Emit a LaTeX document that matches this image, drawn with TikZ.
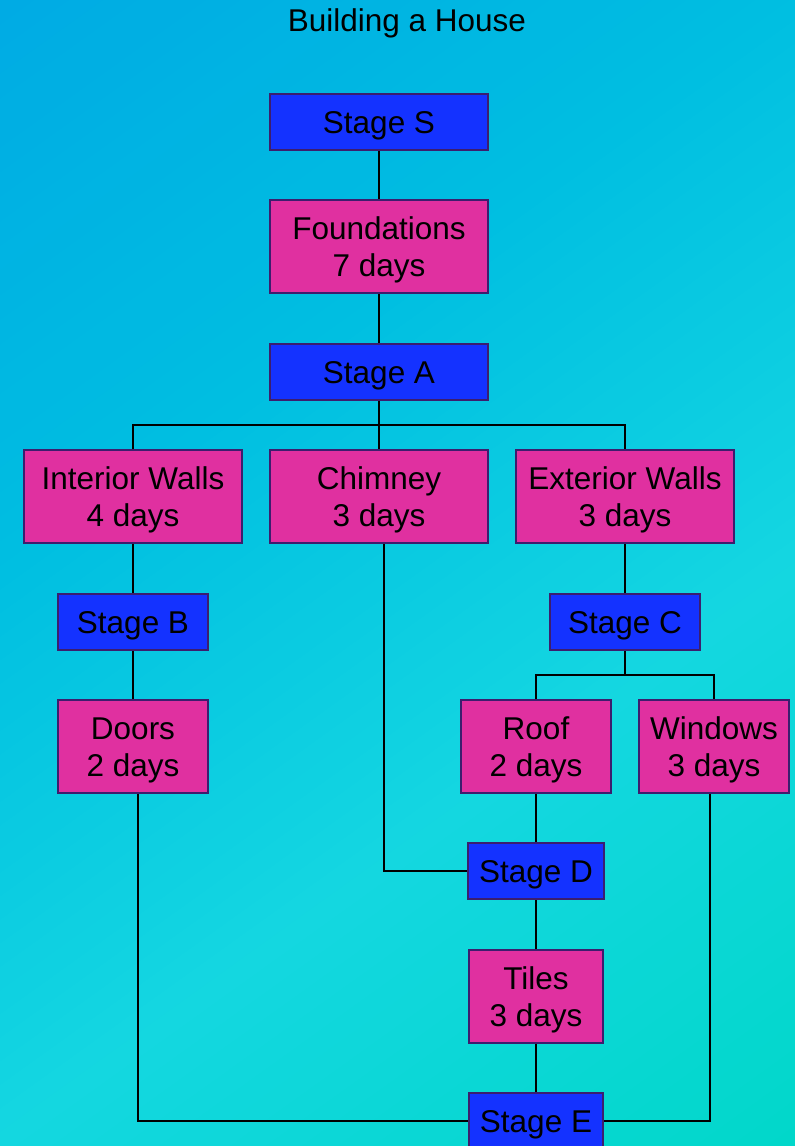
\documentclass[tikz,border=0pt]{standalone}
\usepackage{fontspec}
\setmainfont{Liberation Sans}
\definecolor{bgA}{RGB}{0,170,228}
\definecolor{bgB}{RGB}{0,190,225}
\definecolor{bgC}{RGB}{20,215,225}
\definecolor{bgD}{RGB}{0,215,200}
\definecolor{stageblue}{RGB}{20,50,255}
\definecolor{taskpink}{RGB}{224,48,160}
\definecolor{boxedge}{RGB}{60,30,110}
\newcommand\topstrut{\rule{0pt}{30pt}}
\tikzset{
  boxfont/.style={font=\fontsize{31.5}{37}\selectfont},
  stagebox/.style={draw=boxedge, line width=2pt, fill=stageblue, inner sep=0pt, minimum height=56pt, boxfont},
  taskbox/.style={draw=boxedge, line width=2pt, fill=taskpink, inner sep=0pt, minimum height=93pt, align=center, boxfont},
  link/.style={draw=black, line width=2pt}
}
\begin{document}
\begin{tikzpicture}[x=1pt,y=-1pt]
\useasboundingbox (0,0) rectangle (795,1146);
% diagonal background gradient, drawn as thin bands
\begin{scope}
\clip (0,0) rectangle (795,1146);
\begin{scope}[x={(0.5827pt,-0.8127pt)}, y={(-0.8127pt,-0.5827pt)}]
\foreach \ta/\tb/\ca/\cb in {-20/460/bgA/bgB, 460/920/bgB/bgC, 920/1420/bgC/bgD}{
  \foreach \i in {0,...,23}{
    \pgfmathsetmacro\tlo{\ta+\i*(\tb-\ta)/24}
    \pgfmathsetmacro\thi{\ta+(\i+1)*(\tb-\ta)/24+1}
    \pgfmathsetmacro\pc{100*(\i+0.5)/24}
    \fill[color=\cb!\pc!\ca] (\tlo,-1500) -- (\thi,-1500) -- (\thi,1500) -- (\tlo,1500) -- cycle;
  }
}
\end{scope}
\end{scope}
\node[anchor=base, boxfont] (title) at (407,31) {Building a House};
% nodes
\node[stagebox, minimum width=218pt] (ss) at (379,122) {\topstrut Stage S};
\node[taskbox, minimum width=218pt] (fd) at (379,246.5) {\topstrut Foundations\\7 days};
\node[stagebox, minimum width=218pt] (sa) at (379,372) {\topstrut Stage A};
\node[taskbox, minimum width=218pt] (iw) at (133,496.5) {\topstrut Interior Walls\\4 days};
\node[taskbox, minimum width=218pt] (ch) at (379,496.5) {\topstrut Chimney\\3 days};
\node[taskbox, minimum width=218pt] (ew) at (625,496.5) {\topstrut Exterior Walls\\3 days};
\node[stagebox, minimum width=150pt] (sb) at (133,622) {\topstrut Stage B};
\node[stagebox, minimum width=150pt] (sc) at (625,622) {\topstrut Stage C};
\node[taskbox, minimum width=150pt] (dr) at (133,746.5) {\topstrut Doors\\2 days};
\node[taskbox, minimum width=150pt] (rf) at (536,746.5) {\topstrut Roof\\2 days};
\node[taskbox, minimum width=150pt] (wn) at (714,746.5) {\topstrut Windows\\3 days};
\node[stagebox, minimum width=136pt] (sd) at (536,871) {\topstrut Stage D};
\node[taskbox, minimum width=134pt] (tl) at (536,996) {\topstrut Tiles\\3 days};
\node[stagebox, minimum width=134pt] (se) at (536,1121) {\topstrut Stage E};
\coordinate (forkA) at (379,425);
\coordinate (forkC) at (625,675);
% connectors
\draw[link] (ss.south) -- (fd.north);
\draw[link] (fd.south) -- (sa.north);
\draw[link] (sa.south) -- (forkA);
\draw[link] (iw.north) |- (forkA) -| (ew.north);
\draw[link] (forkA) -- (ch.north);
\draw[link] (iw.south) -- (sb.north);
\draw[link] (sb.south) -- (dr.north);
\draw[link] (ew.south) -- (sc.north);
\draw[link] (sc.south) -- (forkC);
\draw[link] (rf.north) |- (forkC) -| (wn.north);
\draw[link] ([xshift=5pt]ch.south) |- (sd.west);
\draw[link] (rf.south) -- (sd.north);
\draw[link] (sd.south) -- (tl.north);
\draw[link] (tl.south) -- (se.north);
\draw[link] ([xshift=5pt]dr.south) |- (se.west);
\draw[link] ([xshift=-4pt]wn.south) |- (se.east);
\end{tikzpicture}
\end{document}
